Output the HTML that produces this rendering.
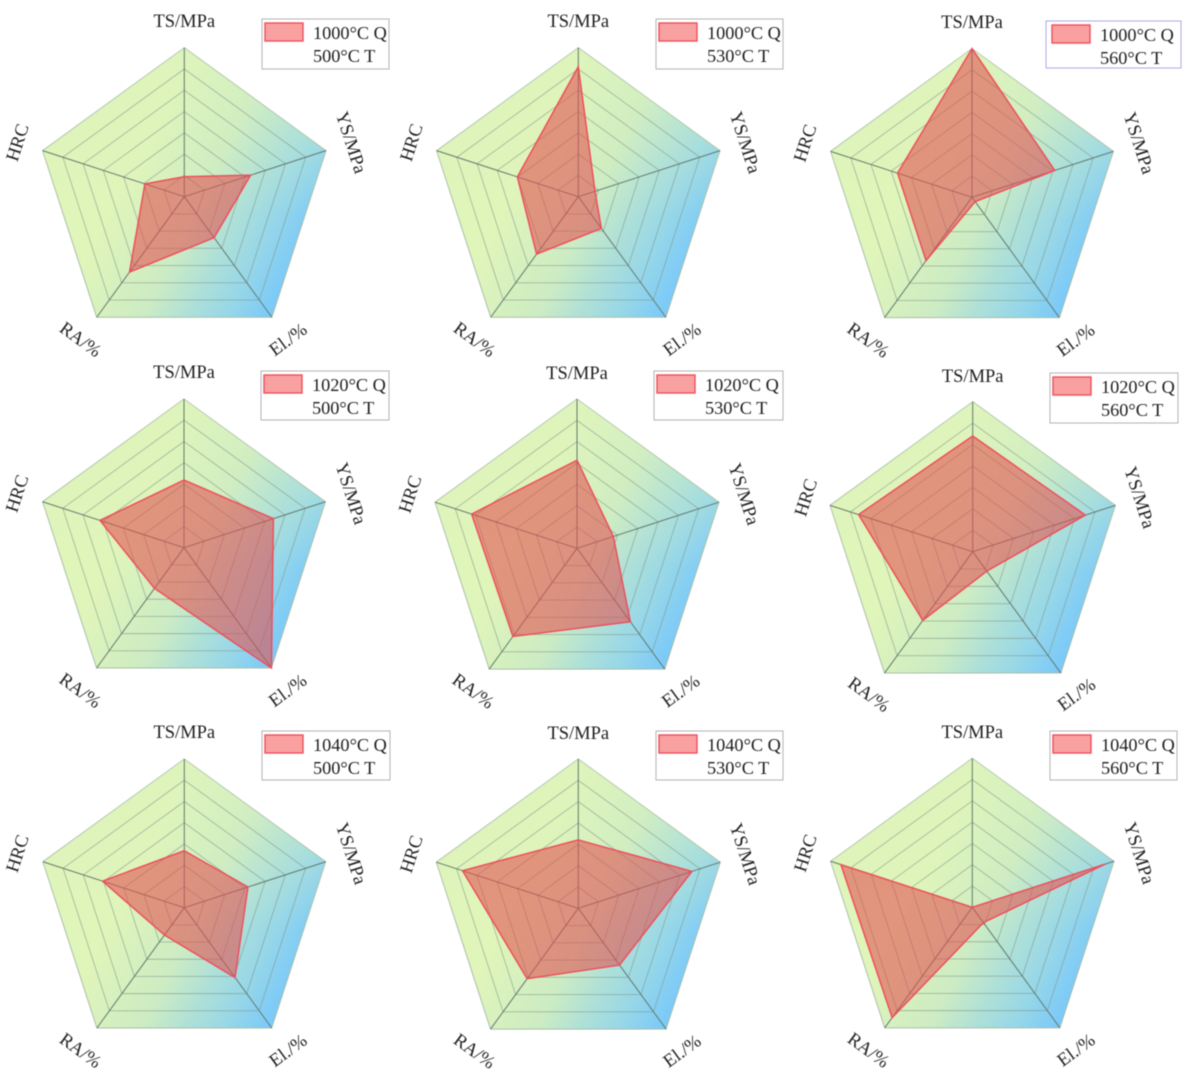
<!DOCTYPE html>
<html lang="en">
<head>
<meta charset="utf-8">
<title>Radar charts of mechanical properties after quenching and tempering</title>
<style>
  html, body { margin: 0; padding: 0; background: #ffffff; }
  #figure { display: block; width: 1191px; height: 1080px; filter: blur(0.5px); }
  text { font-family: "Liberation Serif", "DejaVu Serif", serif; fill: #1f1f1f; }
</style>
</head>
<body>
<svg id="figure" xmlns="http://www.w3.org/2000/svg" width="1191" height="1080" viewBox="0 0 1191 1080"></svg>
<script>
// ---- chart data (fraction of axis maximum) ----
const categories = ['TS/MPa', 'YS/MPa', 'El./%', 'RA/%', 'HRC'];
const ringLevels = [1, 2, 3, 4, 5, 6, 7];
const quenchLabels = ['1000°C Q', '1000°C Q', '1000°C Q', '1020°C Q', '1020°C Q', '1020°C Q', '1040°C Q', '1040°C Q', '1040°C Q'];
const temperLabels = ['500°C T', '530°C T', '560°C T', '500°C T', '530°C T', '560°C T', '500°C T', '530°C T', '560°C T'];
const q1000t500 = [0.134, 0.468, 0.340, 0.625, 0.278];
const q1000t530 = [0.872, 0.118, 0.263, 0.476, 0.430];
const q1000t560 = [1.000, 0.585, 0.036, 0.526, 0.526];
const q1020t500 = [0.455, 0.632, 1.000, 0.338, 0.594];
const q1020t530 = [0.590, 0.256, 0.608, 0.730, 0.742];
const q1020t560 = [0.771, 0.790, 0.160, 0.566, 0.800];
const q1040t500 = [0.383, 0.450, 0.580, 0.227, 0.578];
const q1040t530 = [0.458, 0.800, 0.470, 0.583, 0.815];
const q1040t560 = [0.000, 0.936, 0.127, 0.915, 0.927];
const seriesValues = [q1000t500, q1000t530, q1000t560, q1020t500, q1020t530, q1020t560, q1040t500, q1040t530, q1040t560];
const ringMax = 7;

// ---- layout (separate from the data) ----
const panelFrames = [
  { cx: 184.3, cy: 196.7, r: 149.0, lx: 262, ly: 19, lw: 127, lh: 50, inset: 3 },
  { cx: 578.3, cy: 196.7, r: 149.0, lx: 656, ly: 19, lw: 127, lh: 50, inset: 3 },
  { cx: 972.0, cy: 197.3, r: 148.7, lx: 1046, ly: 21, lw: 135, lh: 47, inset: 6, lineColor: '#a9a9e8' },
  { cx: 184.0, cy: 547.7, r: 148.7, lx: 261, ly: 371, lw: 128, lh: 49, inset: 3 },
  { cx: 577.0, cy: 548.3, r: 149.3, lx: 654, ly: 371, lw: 129, lh: 49, inset: 3 },
  { cx: 972.7, cy: 551.7, r: 150.0, lx: 1050, ly: 373, lw: 128, lh: 50, inset: 3 },
  { cx: 184.3, cy: 907.7, r: 148.7, lx: 262, ly: 731, lw: 128, lh: 49, inset: 3 },
  { cx: 578.3, cy: 908.3, r: 149.3, lx: 656, ly: 731, lw: 127, lh: 49, inset: 3 },
  { cx: 972.3, cy: 907.3, r: 149.0, lx: 1050, ly: 731, lw: 127, lh: 49, inset: 3 }
];

const SVG_NS = 'http://www.w3.org/2000/svg';
const figure = document.getElementById('figure');

function make(tag, attrs, parent) {
  const el = document.createElementNS(SVG_NS, tag);
  Object.keys(attrs).forEach(function (k) { el.setAttribute(k, attrs[k]); });
  parent.appendChild(el);
  return el;
}

// axis functions: axis index + value -> pixel position
function axisAngle(i) { return (i * 2 * Math.PI) / categories.length; }
function axisPoint(frame, i, fraction) {
  const a = axisAngle(i);
  return [frame.cx + frame.r * fraction * Math.sin(a), frame.cy - frame.r * fraction * Math.cos(a)];
}
function polygonPoints(frame, fractions) {
  return fractions.map(function (f, i) {
    const p = axisPoint(frame, i, f);
    return p[0].toFixed(2) + ',' + p[1].toFixed(2);
  }).join(' ');
}
function labelRotation(i) {
  const deg = (i * 360) / categories.length;
  return (deg > 90 && deg < 270) ? deg - 180 : deg;
}

const defs = make('defs', {}, figure);

seriesValues.forEach(function (values, p) {
  const frame = panelFrames[p];
  const gradId = 'panel-gradient-' + p;
  const nx = 0.9, ny = 0.44;
  const grad = make('linearGradient', {
    id: gradId, gradientUnits: 'userSpaceOnUse',
    x1: frame.cx - 60 * nx, y1: frame.cy - 60 * ny,
    x2: frame.cx + 132 * nx, y2: frame.cy + 132 * ny
  }, defs);
  make('stop', { offset: '0', 'stop-color': '#e0f5ba' }, grad);
  make('stop', { offset: '0.39', 'stop-color': '#cdecc3' }, grad);
  make('stop', { offset: '0.6', 'stop-color': '#aee0d8' }, grad);
  make('stop', { offset: '0.78', 'stop-color': '#97d7e8' }, grad);
  make('stop', { offset: '1', 'stop-color': '#78c8fb' }, grad);

  const veilId = 'panel-veil-' + p;
  const veil = make('linearGradient', {
    id: veilId, gradientUnits: 'userSpaceOnUse',
    x1: frame.cx, y1: frame.cy - frame.r,
    x2: frame.cx, y2: frame.cy + 20
  }, defs);
  make('stop', { offset: '0', 'stop-color': '#dcf3be', 'stop-opacity': 0.5 }, veil);
  make('stop', { offset: '1', 'stop-color': '#dcf3be', 'stop-opacity': 0 }, veil);

  const group = make('g', {}, figure);
  
  

  const bg = make('polygon', {
    points: polygonPoints(frame, categories.map(function () { return 1; })),
    fill: 'url(#' + gradId + ')', stroke: '#a9bfa8', 'stroke-width': 1
  }, group);
  
  

  const bgVeil = make('polygon', {
    points: polygonPoints(frame, categories.map(function () { return 1; })),
    fill: 'url(#' + veilId + ')'
  }, group);
  
  

  ringLevels.slice(0, -1).forEach(function (level) {
    const ring = make('polygon', {
      points: polygonPoints(frame, categories.map(function () { return level / ringMax; })),
      fill: 'none', stroke: '#7f9488', 'stroke-opacity': 0.6, 'stroke-width': 0.9
    }, group);
    
    
  });

  categories.forEach(function (name, i) {
    const end = axisPoint(frame, i, 1);
    const spoke = make('line', {
      x1: frame.cx, y1: frame.cy, x2: end[0], y2: end[1],
      stroke: '#627a6e', 'stroke-width': 1
    }, group);
    
    
  });

  const area = make('polygon', {
    points: polygonPoints(frame, values),
    fill: 'rgb(225,80,80)', 'fill-opacity': 0.58,
    stroke: '#ee4f5c', 'stroke-width': 1.5, 'stroke-linejoin': 'miter'
  }, group);
  
  

  categories.forEach(function (name, i) {
    const a = axisAngle(i);
    const lx = frame.cx + 176 * Math.sin(a);
    const ly = frame.cy - 176 * Math.cos(a);
    const label = make('text', {
      x: lx, y: ly, dy: 1.5, 'font-size': 18.5, 'text-anchor': 'middle', 'dominant-baseline': 'central',
      transform: 'rotate(' + labelRotation(i) + ' ' + lx.toFixed(2) + ' ' + ly.toFixed(2) + ')'
    }, group);
    
    
    label.textContent = name;
  });

  const legend = make('g', {}, group);
  
  

  const box = make('rect', {
    x: frame.lx, y: frame.ly, width: frame.lw, height: frame.lh,
    fill: '#ffffff', stroke: frame.lineColor || '#b4b4b4', 'stroke-width': 1
  }, legend);
  
  

  const swatchX = frame.lx + frame.inset;
  const swatch = make('rect', {
    x: swatchX, y: frame.ly + 4, width: 38, height: 18,
    fill: '#f9a1a1', stroke: '#ee4f5c', 'stroke-width': 1.4
  }, legend);
  
  

  const line1 = make('text', { x: swatchX + 48, y: frame.ly + 20, 'font-size': 18.3 }, legend);
  
  
  line1.textContent = quenchLabels[p];

  const line2 = make('text', { x: swatchX + 48, y: frame.ly + 43, 'font-size': 18.3 }, legend);
  
  
  line2.textContent = temperLabels[p];
});
</script>
</body>
</html>
